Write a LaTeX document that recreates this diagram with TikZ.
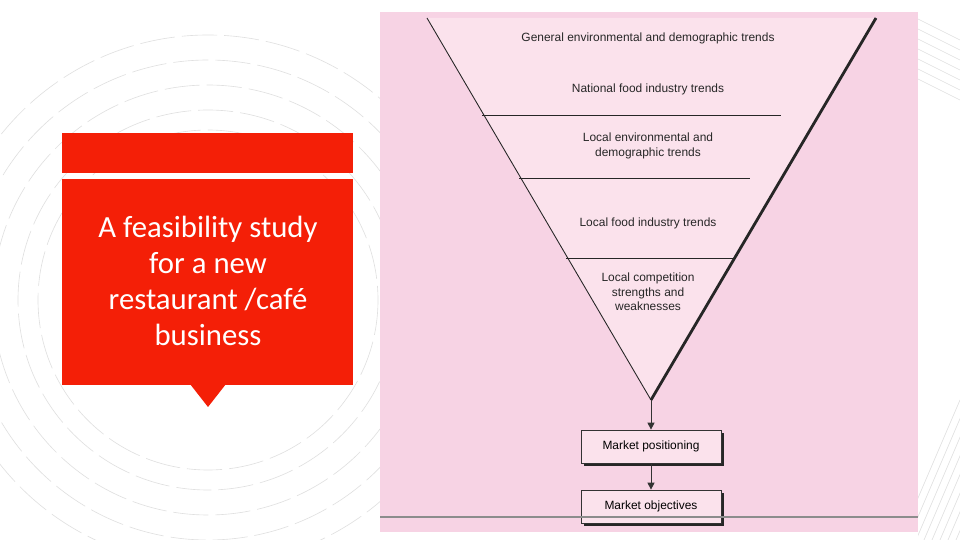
\documentclass[tikz,border=0pt]{standalone}
\usepackage{fontspec}
\setmainfont{Liberation Sans}
\newfontfamily\titlefont{Carlito}
\usetikzlibrary{arrows.meta}
\definecolor{panel}{HTML}{F7D3E4}
\definecolor{funnel}{HTML}{FBE2EC}
\definecolor{redbox}{HTML}{F41F07}
\begin{document}
\begin{tikzpicture}[x=0.02cm,y=-0.02cm,
  lbl/.style={font=\fontsize{6.8}{8.2}\selectfont,text=black!85,align=center},
  box/.style={draw=black!80,fill=funnel,minimum width=140*0.02cm,minimum height=33*0.02cm,inner sep=0pt,font=\fontsize{6.8}{8}\selectfont},
  arr/.style={-{Triangle[length=4pt,width=4pt]},black!80,line width=0.5pt},
  deco/.style={black!12,line width=0.35pt}]
\useasboundingbox (0,0) rectangle (960,540);
\fill[white] (0,0) rectangle (960,540);
% decorative arcs
\begin{scope}
\clip (0,0) rectangle (380,540);
\foreach \r in {170,190,215,240,265}{
  \draw[deco,dash pattern=on 20pt off 4pt] (208,300) circle (\r);}
\end{scope}
\begin{scope}
\clip (918,0) rectangle (960,540);
\foreach \i in {0,8,...,80}{\draw[deco] (900+\i,540) -- (960+\i,400);}
\foreach \i in {0,10,...,60}{\draw[deco] (900,10+\i) -- (960,40+\i);}
\end{scope}
% pink panel
\fill[panel] (380,12) rectangle (918,532);
\coordinate (tl) at (427,18);
\coordinate (tr) at (876,18);
\coordinate (tip) at (651,400);
\fill[funnel] (tl) -- (tr) -- (tip) -- cycle;
\draw[black!85,line width=0.5pt] (tl) -- (tip);
\draw[black!85,line width=1.6pt] (tr) -- (tip);
\draw[black!85,line width=0.5pt] (482,115) -- (781,115);
\draw[black!85,line width=0.5pt] (519,178) -- (750,178);
\draw[black!85,line width=0.5pt] (566,258) -- (735,258);
\node[lbl] (t1) at (648,38) {General environmental and demographic trends};
\node[lbl] (t2) at (648,89) {National food industry trends};
\node[lbl] (t3) at (648,146) {Local environmental and\\demographic trends};
\node[lbl] (t4) at (648,223) {Local food industry trends};
\node[lbl] (t5) at (648,292) {Local competition\\strengths and\\weaknesses};
\fill[black!85] (584,433) rectangle (724,466);
\node[box] (b1) at (651,446.5) {Market positioning};
\fill[black!85] (584,493) rectangle (724,526);
\node[box] (b2) at (651,506.5) {Market objectives};
\draw[arr] (tip) -- (b1.north);
\draw[arr] (b1.south) -- (b2.north);
\draw[black!45,line width=0.6pt] (380,517) -- (918,517);
% red panel
\fill[redbox] (62,133) rectangle (353,173);
\fill[redbox] (62,179) rectangle (353,385);
\fill[redbox] (190,384) -- (226,384) -- (208,407) -- cycle;
\node[text=white,align=center,font=\titlefont\fontsize{17.5}{20.5}\selectfont] (title) at (208,281)
 {A feasibility study\\for a new\\restaurant /café\\business};
\end{tikzpicture}
\end{document}
